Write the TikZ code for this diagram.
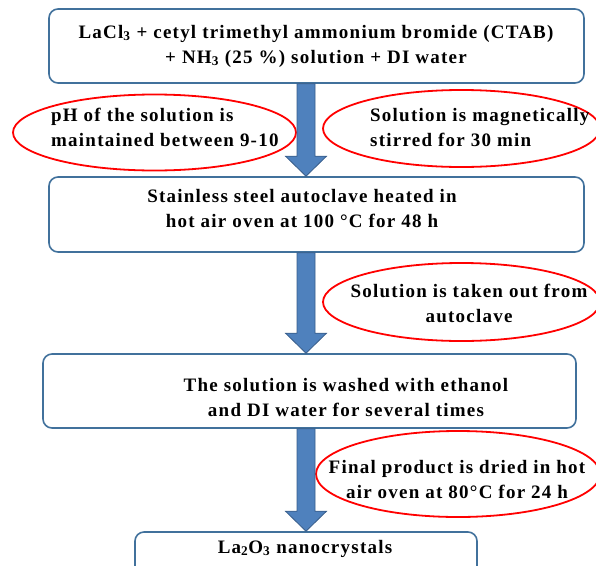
\documentclass[tikz,border=0pt]{standalone}
\usepackage{fontspec}
\setmainfont{Liberation Serif}
\newfontfamily\stepfont[LetterSpace=6.5]{Liberation Serif}
\usetikzlibrary{calc,shapes.geometric}

\definecolor{boxline}{HTML}{41719C}
\definecolor{arrowfill}{HTML}{4F81BD}
\definecolor{arrowline}{HTML}{385D8A}

% block arrow between two points on the same vertical
\newcommand{\fatarrow}[2]{%
  \draw[fatarrow] let \p1=(#1), \p2=(#2) in
    (\x1-9pt,\y1) -- (\x1+9pt,\y1) -- (\x1+9pt,\y2+20pt) -- (\x1+20.5pt,\y2+20pt)
    -- (\x2,\y2) -- (\x1-20.5pt,\y2+20pt) -- (\x1-9pt,\y2+20pt) -- cycle;}

\begin{document}
\begin{tikzpicture}[x=1pt, y=-1pt,
        stepbox/.style={draw=boxline, line width=1.6pt, rounded corners=9pt, inner sep=0pt},
        note/.style={ellipse, draw=red, line width=1.8pt, inner sep=0pt},
        txt/.style={font=\stepfont\bfseries\fontsize{19}{25}\selectfont, inner sep=0pt},
        fatarrow/.style={fill=arrowfill, draw=arrowline, line width=0.8pt}]
\useasboundingbox (0,0) rectangle (596,565);
\clip (0,0) rectangle (596,565);

% process steps
\node[stepbox, minimum width=535pt, minimum height=74pt] (mix) at (316.5,46) {};
\node[stepbox, minimum width=535pt, minimum height=75pt] (autoclave) at (316.5,214.5) {};
\node[stepbox, minimum width=533pt, minimum height=74pt] (wash) at (309.5,391) {};
\node[stepbox, minimum width=342pt, minimum height=72pt] (product) at (306,568) {};

% base anchor = baseline of the last line
\node[txt, anchor=base, align=center] (mixtxt) at (316,63)
    {LaCl\textsubscript{3} + cetyl trimethyl ammonium bromide (CTAB)\\+ NH\textsubscript{3} (25 \%) solution + DI water};
\node[txt, anchor=base, align=center] (autoclavetxt) at (302,227)
    {Stainless steel autoclave heated in\\hot air oven at 100 °C for 48 h};
\node[txt, anchor=base, align=center] (washtxt) at (346,416)
    {The solution is washed with ethanol\\and DI water for several times};
\node[txt, anchor=base] (producttxt) at (305,553) {La\textsubscript{2}O\textsubscript{3} nanocrystals};

% side notes
\node[note, minimum width=283pt, minimum height=76pt] (phnote) at (154.5,132.5) {};
\node[note, minimum width=277pt, minimum height=77pt] (stirnote) at (461.5,128.5) {};
\node[note, minimum width=277pt, minimum height=78pt] (outnote) at (461.5,302) {};
\node[note, minimum width=284pt, minimum height=86pt] (drynote) at (458,474) {};

\node[txt, anchor=base west, align=left] (phtxt) at (51,146)
    {pH of the solution is\\maintained between 9-10};
\node[txt, anchor=base west, align=left] (stirtxt) at (370,146)
    {Solution is magnetically\\stirred for 30 min};
\node[txt, anchor=base, align=center] (outtxt) at (469,322)
    {Solution is taken out from\\autoclave};
\node[txt, anchor=base, align=center] (drytxt) at (457,498)
    {Final product is dried in hot\\air oven at 80°C for 24 h};

% flow
\coordinate (axis) at (306,0);
\fatarrow{mix.south -| axis}{autoclave.north -| axis}
\fatarrow{autoclave.south -| axis}{wash.north -| axis}
\fatarrow{wash.south -| axis}{product.north -| axis}

\end{tikzpicture}
\end{document}
